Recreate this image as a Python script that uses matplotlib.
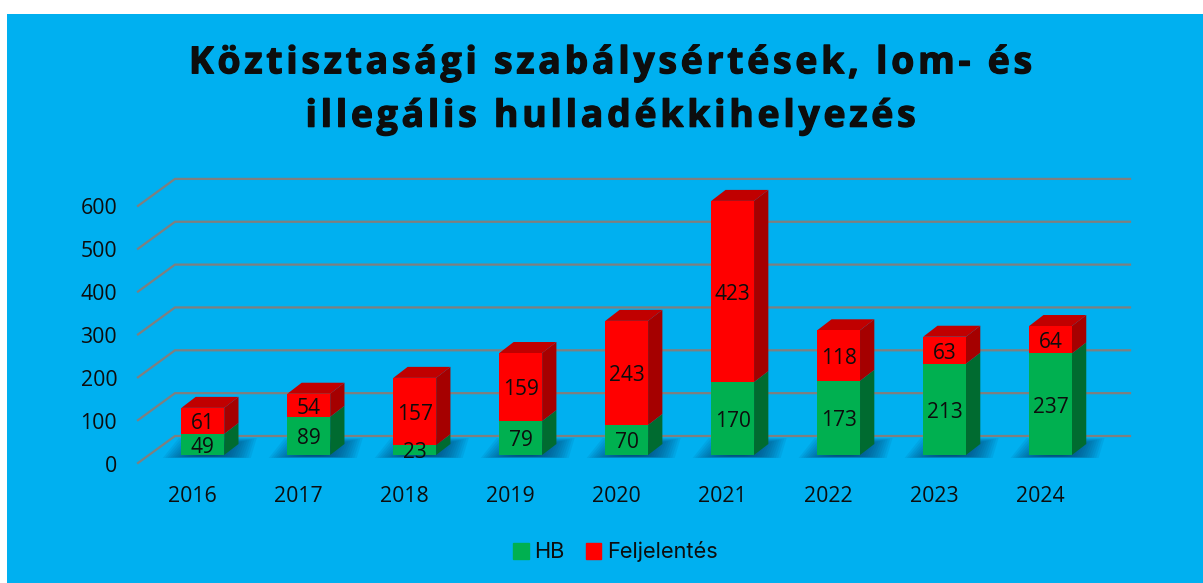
import matplotlib
matplotlib.use('Agg')
import matplotlib.pyplot as plt
import matplotlib.patheffects as pe
from matplotlib.patches import Polygon, Rectangle, Patch
from matplotlib.transforms import ScaledTranslation

years = ['2016', '2017', '2018', '2019', '2020', '2021', '2022', '2023', '2024']
hb = [49, 89, 23, 79, 70, 170, 173, 213, 237]
feljelentes = [61, 54, 157, 159, 243, 423, 118, 63, 64]
yticks = [0, 100, 200, 300, 400, 500, 600]
title = 'Köztisztasági szabálysértések, lom- és\nillegális hulladékkihelyezés'

W, H = 1203, 583
BG = '#00B0F0'
GREEN, GREEN_SIDE = '#00B050', '#006B30'
RED, RED_TOP, RED_SIDE = '#FF0000', '#C00000', '#A50000'
GRID = '#7F7F7F'
TXT = '#0D0D0D'

plt.rcParams['font.family'] = ['Open Sans', 'DejaVu Sans']

fig = plt.figure(figsize=(W / 100, H / 100), dpi=100, facecolor='white')
fig.patches.append(Rectangle((7 / W, 0), 1 - 7 / W, 1 - 14 / H, transform=fig.transFigure,
                             facecolor=BG, edgecolor='none', zorder=-1))

# axes box in pixels, front edge of the floor to the back right corner
ax = fig.add_axes([138 / W, 1 - 463 / H, (1130 - 138) / W, (463 - 178) / H])
ax.patch.set_visible(False)
px_x = 105.97
px_y = 0.4285
ax.set_xlim((138 - 202.8) / px_x, (1130 - 202.8) / px_x)
ax.set_ylim(-8 / px_y, (455 - 178) / px_y)
for s in ax.spines.values():
    s.set_visible(False)

bar_w = 42.8 / px_x
dx, dy = 14.3 / px_x, 11 / px_y        # bar depth
wall_y = 19 / px_y                     # back wall relative to bar plane
wall_y0 = -8 / px_y                    # front edge relative to bar plane
wall_x0 = ax.get_xlim()[0]
wall_x1 = (175 - 202.8) / px_x
wall_x2 = ax.get_xlim()[1]

for v in yticks:
    ax.plot([wall_x0, wall_x1, wall_x2], [v + wall_y0, v + wall_y, v + wall_y], color=GRID,
            lw=1.6, solid_joinstyle='miter', clip_on=False, zorder=1)

x = list(range(len(years)))
totals = [a + b for a, b in zip(hb, feljelentes)]

# soft shadow on the floor, stacked thin layers
for i in x:
    for k in range(16):
        sx = (47 - 2.4 * k) / px_x
        sy0 = (-3 + 0.12 * k) / px_y
        sy1 = (17 - 0.6 * k) / px_y
        c = i + 7 / px_x
        ax.add_patch(Polygon([(c - sx, sy0), (c + sx - 6 / px_x, sy0), (c + sx, sy1), (c - sx + 16 / px_x, sy1)],
                             facecolor='#003E6B', edgecolor='none', alpha=0.09, zorder=2))

ax.bar(x, hb, bar_w, color=GREEN, zorder=4)
ax.bar(x, feljelentes, bar_w, bottom=hb, color=RED, zorder=4)

for i in x:
    r = i + bar_w / 2
    l = i - bar_w / 2
    ax.add_patch(Polygon([(r, 0), (r + dx, dy), (r + dx, hb[i] + dy), (r, hb[i])],
                         facecolor=GREEN_SIDE, edgecolor='none', zorder=3))
    ax.add_patch(Polygon([(r, hb[i]), (r + dx, hb[i] + dy), (r + dx, totals[i] + dy), (r, totals[i])],
                         facecolor=RED_SIDE, edgecolor='none', zorder=3))
    ax.add_patch(Polygon([(l, totals[i]), (r, totals[i]), (r + dx, totals[i] + dy), (l + dx, totals[i] + dy)],
                         facecolor=RED_TOP, edgecolor='none', zorder=3))
    for val, mid in ((hb[i], hb[i] / 2), (feljelentes[i], hb[i] + feljelentes[i] / 2)):
        ax.annotate(str(val), (i, mid), xytext=(0, -2), textcoords='offset points', ha='center', va='center',
                    fontsize=15, color=TXT, zorder=5)

ax.set_yticks(yticks)
ax.set_xticks(x)
ax.set_xticklabels(years)
ax.tick_params(axis='both', length=0, labelsize=15.3, labelcolor=TXT)
ax.tick_params(axis='y', pad=15)
ax.tick_params(axis='x', pad=16.5)
down = ScaledTranslation(0, -8.6 / 100, fig.dpi_scale_trans)
left = ScaledTranslation(-10 / 100, 0, fig.dpi_scale_trans)
for lab in ax.get_yticklabels():
    lab.set_transform(lab.get_transform() + down)
for lab in ax.get_xticklabels():
    lab.set_transform(lab.get_transform() + left)

fig.legend(handles=[Patch(color=GREEN, label='HB'), Patch(color=RED, label='Feljelentés')],
           loc='center', bbox_to_anchor=(615.5 / W, 1 - 552 / H), ncols=2, frameon=False,
           prop={'family': ['Inter', 'DejaVu Sans'], 'size': 15.7},
           handlelength=0.7, handleheight=0.7, handletextpad=0.25, columnspacing=1.0, labelcolor=TXT)

# wide tracking in the title: hair spaces between the letters
spaced = '\n'.join('\u200a'.join(line) for line in title.split('\n'))
fig.text(610 / W, 1 - 90 / H, spaced, ha='center', va='center', fontsize=26.9, fontweight='bold',
         color=TXT, linespacing=1.53,
         path_effects=[pe.SimpleLineShadow(offset=(1, -2), alpha=0.35, shadow_color='#003050'),
                       pe.withStroke(linewidth=0.9, foreground=TXT)])

fig.savefig('out.png', dpi=100, facecolor=fig.get_facecolor())
